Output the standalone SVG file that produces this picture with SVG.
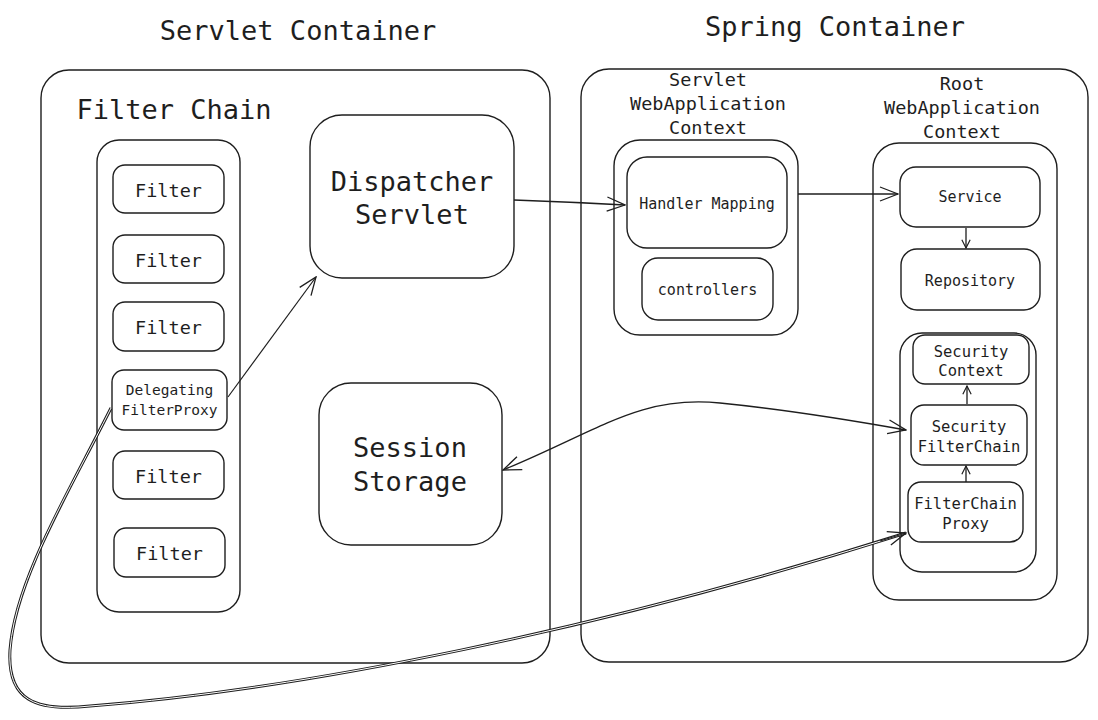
<svg xmlns="http://www.w3.org/2000/svg" width="1098" height="720" viewBox="0 0 1098 720">
<defs>
<marker id="arr" viewBox="0 0 20 20" refX="19" refY="10" markerWidth="20" markerHeight="20" markerUnits="userSpaceOnUse" orient="auto-start-reverse">
<path d="M1,3 L19,10 L1,17" fill="none" stroke="#1e1e1e" stroke-width="1.3"/>
</marker>
<marker id="arrs" viewBox="0 0 12 12" refX="11" refY="6" markerWidth="10" markerHeight="10" markerUnits="userSpaceOnUse" orient="auto">
<path d="M1,1 L11,6 L1,11" fill="none" stroke="#1e1e1e" stroke-width="1.4"/>
</marker>
</defs>
<style>
rect{fill:#fff;stroke:#1e1e1e;stroke-width:1.4}
text{font-family:"DejaVu Sans Mono","Liberation Mono",monospace;fill:#1e1e1e;text-anchor:middle}
.t27{font-size:27px}
.t19{font-size:18.5px}
.t16{font-size:15.5px}
.t15{font-size:15px}
.t14{font-size:14.5px}
.c{fill:none;stroke:#1e1e1e;stroke-width:1.3}
</style>
<rect x="0" y="0" width="1098" height="720" style="fill:#fff;stroke:none"/>
<text class="t27" x="298" y="40">Servlet Container</text>
<text class="t27" x="835" y="36">Spring Container</text>

<g id="servlet-container">
<rect x="41" y="70" width="509" height="593" rx="28"/>
<text class="t27" x="174" y="119">Filter Chain</text>
</g>
<g id="filter-chain"><rect x="97" y="140" width="143" height="472" rx="22"/></g>
<g id="filter1"><rect x="113" y="165" width="111" height="48" rx="12"/><text class="t19" x="168.5" y="197">Filter</text></g>
<g id="filter2"><rect x="113" y="235" width="111" height="48" rx="12"/><text class="t19" x="168.5" y="267">Filter</text></g>
<g id="filter3"><rect x="113" y="302" width="111" height="49" rx="12"/><text class="t19" x="168.5" y="334">Filter</text></g>
<g id="delegating"><rect x="112" y="370" width="115" height="60" rx="12"/><text class="t14" x="169.5" y="395">Delegating</text><text class="t14" x="169.5" y="415">FilterProxy</text></g>
<g id="filter5"><rect x="113" y="451" width="111" height="48" rx="12"/><text class="t19" x="168.5" y="483">Filter</text></g>
<g id="filter6"><rect x="114" y="528" width="111" height="49" rx="12"/><text class="t19" x="169.5" y="560">Filter</text></g>
<g id="dispatcher"><rect x="310" y="115" width="204" height="163" rx="32"/><text class="t27" x="412" y="191">Dispatcher</text><text class="t27" x="412" y="224">Servlet</text></g>
<g id="session"><rect x="319" y="383" width="183" height="162" rx="32"/><text class="t27" x="410" y="457">Session</text><text class="t27" x="410" y="491">Storage</text></g>

<g id="spring-container"><rect x="581" y="69" width="507" height="593" rx="28"/></g>
<g id="servlet-wac">
<text class="t19" x="708" y="86">Servlet</text><text class="t19" x="708" y="110">WebApplication</text><text class="t19" x="708" y="134">Context</text>
<rect x="614" y="140" width="184" height="195" rx="26"/>
</g>
<g id="handler-mapping"><rect x="627" y="157" width="160" height="91" rx="20"/><text class="t15" x="707" y="209">Handler Mapping</text></g>
<g id="controllers"><rect x="642" y="258" width="131" height="62" rx="16"/><text class="t15" x="707.5" y="295">controllers</text></g>
<g id="root-wac">
<text class="t19" x="962" y="90">Root</text><text class="t19" x="962" y="114">WebApplication</text><text class="t19" x="962" y="138">Context</text>
<rect x="873" y="143" width="184" height="457" rx="26"/>
</g>
<g id="service"><rect x="900" y="167" width="140" height="60" rx="16"/><text class="t15" x="970" y="202">Service</text></g>
<g id="repository"><rect x="901" y="249" width="139" height="61" rx="16"/><text class="t15" x="970" y="286">Repository</text></g>
<g id="security-group"><rect x="900" y="333" width="136" height="239" rx="22"/></g>
<g id="security-context"><rect x="913" y="335" width="116" height="49" rx="12"/><text class="t16" x="971" y="357">Security</text><text class="t16" x="971" y="376">Context</text></g>
<g id="security-filterchain"><rect x="911" y="405" width="116" height="60" rx="13"/><text class="t16" x="969" y="432">Security</text><text class="t16" x="969" y="452">FilterChain</text></g>
<g id="filterchain-proxy"><rect x="908" y="482" width="115" height="60" rx="13"/><text class="t16" x="965.5" y="509">FilterChain</text><text class="t16" x="965.5" y="529">Proxy</text></g>

<g id="connectors">
<path class="c" d="M514,200 Q570,202 625,205" marker-end="url(#arr)"/>
<path class="c" d="M798,194 L898,194" marker-end="url(#arr)"/>
<path class="c" d="M228,397 L316,277" marker-end="url(#arr)" style="stroke-width:1.2"/>
<path class="c" d="M966,228 L966,248" marker-end="url(#arrs)"/>
<path class="c" d="M966,482 L966,466" marker-end="url(#arrs)"/>
<path class="c" d="M967,404 L967,386" marker-end="url(#arrs)"/>
<path class="c" d="M503,470 C600,430 640,395 720,403 C790,410 850,420 906,430" marker-start="url(#arr)" marker-end="url(#arr)"/>
<path class="c" d="M111,408 C70,490 15,580 10,650 C7,700 35,712 90,706 C300,690 600,630 906,533" style="stroke-width:3"/>
<path d="M111,408 C70,490 15,580 10,650 C7,700 35,712 90,706 C300,690 600,630 906,533" style="fill:none;stroke:#fff;stroke-width:1"/>
<path class="c" d="M880,541 L906,533" marker-end="url(#arr)"/>
</g>
</svg>
